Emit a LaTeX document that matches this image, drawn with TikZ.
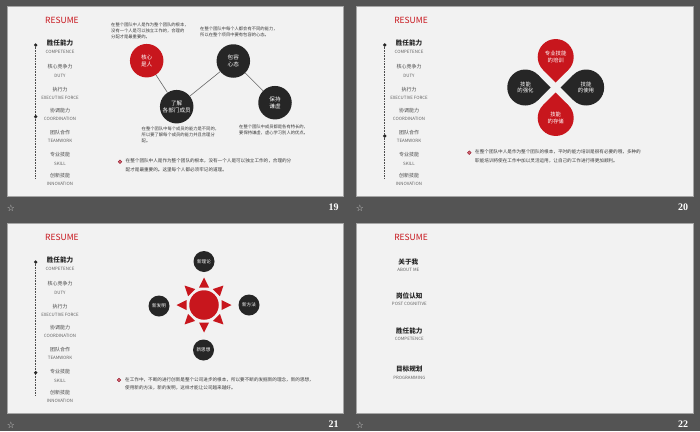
\documentclass[tikz,border=0pt]{standalone}
\usepackage{fontspec}
\setmainfont{Noto Sans CJK SC}
\newfontfamily\numfont{Liberation Serif}
\newfontfamily\symfont{DejaVu Sans}
\definecolor{bgdark}{HTML}{545454}
\definecolor{paper}{HTML}{F2F2F2}
\definecolor{paperframe}{HTML}{A6A6A6}
\definecolor{resred}{HTML}{C8161D}
\definecolor{ink}{HTML}{262626}
\definecolor{bodyink}{HTML}{3A3A3A}
\definecolor{bulfill}{HTML}{D9707A}
\definecolor{bulring}{HTML}{9B2335}

\tikzset{
  slidebg/.style={fill=paper, draw=paperframe, line width=0.5pt},
  resume/.style={text=resred, font=\fontsize{8.5}{9}\selectfont, inner sep=0pt},
  cnbig/.style={text=black!85, font=\fontsize{6.6}{7}\selectfont\bfseries, inner sep=0pt},
  cnitem/.style={text=black!72, font=\fontsize{5}{6}\selectfont, inner sep=0pt},
  enitem/.style={text=black!62, font=\fontsize{4.4}{5}\selectfont, inner sep=0pt},
  dashline/.style={draw=black!70, line width=0.6pt, dash pattern=on 0.8pt off 0.8pt},
  sidedot/.style={circle, fill=ink, minimum size=3.6pt, inner sep=0pt},
  body/.style={text=bodyink, font=\fontsize{4.3}{6.2}\selectfont, align=left, inner sep=0pt, anchor=north west},
  bultext/.style={text=bodyink, font=\fontsize{4.6}{8.6}\selectfont, align=left, inner sep=0pt, anchor=north west},
  bulletdot/.style={circle, fill=bulfill, draw=bulring, line width=0.5pt, minimum size=3.6pt, inner sep=0pt},
  bigdisc/.style={circle, minimum size=33.5pt, inner sep=0pt, text=white, align=center, font=\fontsize{5.6}{7}\selectfont},
  smalldisc/.style={circle, fill=ink, minimum size=21pt, inner sep=0pt, text=white, font=\fontsize{4.6}{5}\selectfont},
  petaltext/.style={text=white, align=center, font=\fontsize{5.4}{6.8}\selectfont, inner sep=0pt},
  conn/.style={draw=black!60, line width=0.6pt},
  pagenum/.style={text=white, font=\numfont\bfseries\fontsize{10}{10}\selectfont, inner sep=0pt},
  animstar/.style={text=black!18, font=\symfont\fontsize{9}{9}\selectfont, inner sep=0pt}
}

% left navigation column shared by slides 19-21; #1 = name prefix, #2 = y of the marked item
\newcommand\navcolumn[2]{%
  \node[resume] (#1res) at (55,14.7) {RESUME};
  \coordinate (#1top) at (28.7,39);
  \coordinate (#1bot) at (28.7,172);
  \draw[dashline] (#1top) -- (#1bot);
  \node[sidedot] (#1dota) at (#1top) {};
  \node[sidedot] (#1dotb) at (28.7,#2) {};
  \node[cnbig]  (#1c1) at (53,37.3) {胜任能力};
  \node[enitem] (#1e1) at (53,46.3) {COMPETENCE};
  \node[cnitem] (#1c2) at (53,60.7) {核心竞争力};
  \node[enitem] (#1e2) at (53,69.7) {DUTY};
  \node[cnitem] (#1c3) at (53,83.3) {执行力};
  \node[enitem] (#1e3) at (53,92.3) {EXECUTIVE FORCE};
  \node[cnitem] (#1c4) at (53,105) {协调能力};
  \node[enitem] (#1e4) at (53,113) {COORDINATION};
  \node[cnitem] (#1c5) at (53,126.3) {团队合作};
  \node[enitem] (#1e5) at (53,134.7) {TEAMWORK};
  \node[cnitem] (#1c6) at (53,149) {专业技能};
  \node[enitem] (#1e6) at (53,158) {SKILL};
  \node[cnitem] (#1c7) at (53,169.7) {创新技能};
  \node[enitem] (#1e7) at (53,178) {INNOVATION};
}

% one petal of the four-leaf figure: tip towards the centre, round end outwards
\newcommand\leafpetal[2]{%
  \begin{scope}[shift={(flc)}, rotate=#1]
    \fill[#2] (5,0) -- (17.73,12.73) -- (30.46,0) -- (17.73,-12.73) -- cycle;
    \fill[#2] (30.46,0) circle (18);
  \end{scope}}

\begin{document}
\begin{tikzpicture}[x=1pt, y=-1pt]
\fill[bgdark] (0,0) rectangle (700,431);
\useasboundingbox (0,0) rectangle (700,431);

% ---------- slide frames and footers ----------
\fill[slidebg] (7,6) rectangle (343,196);
\fill[slidebg] (356,6) rectangle (693,196);
\fill[slidebg] (7,223) rectangle (343,413);
\fill[slidebg] (356,223) rectangle (693,413);

\node[animstar] (st19) at (11,208.5) {☆};
\node[animstar] (st20) at (360,208.5) {☆};
\node[animstar] (st21) at (11,425) {☆};
\node[animstar] (st22) at (360,425) {☆};
\node[pagenum] (pn19) at (333.5,207.5) {19};
\node[pagenum] (pn20) at (683,207.5) {20};
\node[pagenum] (pn21) at (333.5,424) {21};
\node[pagenum] (pn22) at (683,424) {22};

% ---------- slide 19 ----------
\begin{scope}[shift={(7,6)}]
  \navcolumn{a}{110.7}
\end{scope}
\node[bigdisc, fill=resred] (core) at (146.7,60.7) {核心\\是人};
\node[bigdisc, fill=ink] (tol) at (233.3,61) {包容\\心态};
\node[bigdisc, fill=ink] (know) at (176.7,106.7) {了解\\各部门成员};
\node[bigdisc, fill=ink] (humb) at (275,102.7) {保持\\谦虚};
\draw[conn] (core) -- (know);
\draw[conn] (know) -- (tol);
\draw[conn] (tol) -- (humb);
\node[body] (t19a) at (111,22.5) {在整个团队中人是作为整个团队的根本，\\没有一个人是可以独立工作的，合理的\\分配才是最重要的。};
\node[body] (t19b) at (200,26.5) {在整个团队中每个人都会有不同的能力，\\所以在整个项目中要有包容的心态。};
\node[body] (t19c) at (141.5,126.5) {在整个团队中每个成员的能力是不同的，\\所以要了解每个成员的能力并且合理分\\配。};
\node[body] (t19d) at (239,124.5) {在整个团队中成员都是各有特长的，\\要保持谦虚，虚心学习别人的优点。};
\node[bulletdot] (b19) at (120,161.7) {};
\node[bultext] (t19e) at (125.5,158.6) {在整个团队中人是作为整个团队的根本，没有一个人是可以独立工作的，合理的分\\配才是最重要的。这里每个人都必须牢记的道理。};

% ---------- slide 20 ----------
\begin{scope}[shift={(356,6)}]
  \navcolumn{b}{130}
\end{scope}
\coordinate (flc) at (555.7,87.5);
\leafpetal{0}{ink}
\leafpetal{180}{ink}
\leafpetal{90}{resred}
\leafpetal{270}{resred}
\node[petaltext] (p20t) at (555.7,57.3) {专业技能\\的培训};
\node[petaltext] (p20l) at (525.5,87.5) {技能\\的强化};
\node[petaltext] (p20r) at (586,87.5) {技能\\的使用};
\node[petaltext] (p20b) at (555.7,117.7) {技能\\的存储};
\node[bulletdot] (b20) at (469.3,152.7) {};
\node[bultext] (t20) at (475,149.6) {在整个团队中人是作为整个团队的根本，平时的能力培训是很有必要的哦，多种的\\职能培训将使在工作中加以灵活运用，让自己的工作进行得更加顺利。};

% ---------- slide 21 ----------
\begin{scope}[shift={(7,223)}]
  \navcolumn{c}{149.7}
\end{scope}
\coordinate (sun) at (204,305);
\begin{scope}[shift={(sun)}]
  \foreach \a in {0,45,...,315}
    \fill[resred, rotate=\a] (17.5,-5) -- (27.5,0) -- (17.5,5) -- cycle;
\end{scope}
\node[circle, fill=resred, minimum size=29.5pt, inner sep=0pt] (sundisc) at (sun) {};
\node[smalldisc] (n21t) at (204,261.5) {新理论};
\node[smalldisc] (n21r) at (249,305) {新方法};
\node[smalldisc] (n21b) at (203.5,350) {新思想};
\node[smalldisc] (n21l) at (159,306) {新发明};
\node[bulletdot] (b21) at (119,380) {};
\node[bultext] (t21) at (125,376.9) {在工作中，不断的进行创新是整个公司进步的根本，所以要不断的发掘新的理念，新的思想，\\使用新的方法，新的发明，这样才能让公司越来越好。};

% ---------- slide 22 ----------
\begin{scope}[shift={(356,223)}]
  \node[resume] (dres) at (55,14.7) {RESUME};
  \node[cnbig]  (d1) at (52.3,38.7) {关于我};
  \node[enitem] (d1e) at (52.3,47) {ABOUT ME};
  \node[cnbig]  (d2) at (53.3,73) {岗位认知};
  \node[enitem] (d2e) at (53.3,81) {POST COGNITIVE};
  \node[cnbig]  (d3) at (53.3,107.7) {胜任能力};
  \node[enitem] (d3e) at (53.3,116.3) {COMPETENCE};
  \node[cnbig]  (d4) at (53.3,146.3) {目标规划};
  \node[enitem] (d4e) at (53.3,155) {PROGRAMMING};
\end{scope}
\end{tikzpicture}
\end{document}
